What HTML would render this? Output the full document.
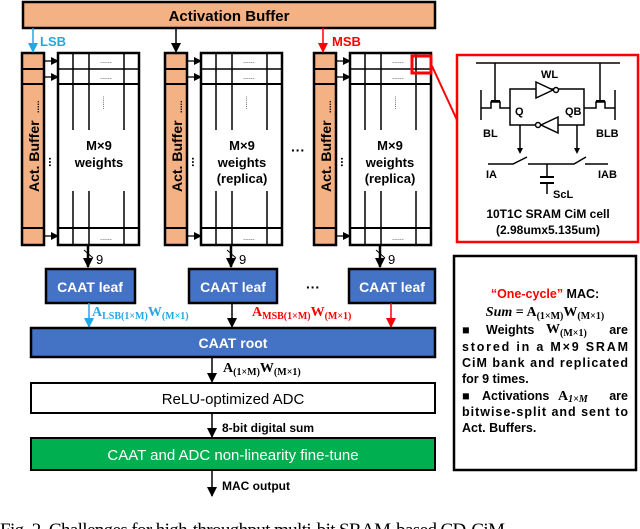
<!DOCTYPE html>
<html><head><meta charset="utf-8"><style>
html,body{margin:0;padding:0;background:#fff;overflow:hidden}
svg{display:block}
text{font-family:"Liberation Sans",Arial,sans-serif}
.b{font-weight:bold}
.s{font-family:"Liberation Serif",serif;font-weight:bold}
</style></head><body>
<svg width="640" height="529" viewBox="0 0 640 529" xmlns="http://www.w3.org/2000/svg">
<defs>
<marker id="ak" markerWidth="8" markerHeight="8" refX="7" refY="4" orient="auto" markerUnits="userSpaceOnUse"><path d="M0,0 L8,4 L0,8 z" fill="#000"/></marker>
<marker id="ab" markerWidth="10" markerHeight="10" refX="9" refY="5" orient="auto" markerUnits="userSpaceOnUse"><path d="M0,0 L10,5 L0,10 z" fill="#1fa9e8"/></marker>
<marker id="ar" markerWidth="10" markerHeight="10" refX="9" refY="5" orient="auto" markerUnits="userSpaceOnUse"><path d="M0,0 L10,5 L0,10 z" fill="#f00"/></marker>
<marker id="ak2" markerWidth="10" markerHeight="10" refX="9" refY="5" orient="auto" markerUnits="userSpaceOnUse"><path d="M0,0 L10,5 L0,10 z" fill="#000"/></marker>
<g id="col">
 <rect x="22" y="53" width="22" height="192" fill="#f4b183" stroke="#000" stroke-width="2.5"/>
 <line x1="22" y1="69" x2="44" y2="69" stroke="#000" stroke-width="2"/>
 <line x1="22" y1="84" x2="44" y2="84" stroke="#000" stroke-width="2"/>
 <line x1="22" y1="228" x2="44" y2="228" stroke="#000" stroke-width="2"/>
 <text class="b" transform="translate(39,192) rotate(-90)" font-size="14">Act. Buffer</text>
 <text class="b" transform="translate(39,113) rotate(-90)" font-size="9">.....</text>
 <text class="b" x="48" y="162" font-size="12" transform="rotate(90 51 160)">...</text>
 <line x1="45" y1="61" x2="58" y2="61" stroke="#000" stroke-width="1.3" marker-end="url(#ak)"/>
 <line x1="45" y1="77" x2="58" y2="77" stroke="#000" stroke-width="1.3" marker-end="url(#ak)"/>
 <line x1="45" y1="236" x2="58" y2="236" stroke="#000" stroke-width="1.3" marker-end="url(#ak)"/>
 <rect x="58" y="53" width="81" height="192" fill="#fff" stroke="#000" stroke-width="2.5"/>
 <line x1="58" y1="69" x2="139" y2="69" stroke="#000" stroke-width="1.5"/>
 <line x1="58" y1="84" x2="139" y2="84" stroke="#000" stroke-width="2"/>
 <line x1="58" y1="228" x2="139" y2="228" stroke="#000" stroke-width="2"/>
 <line x1="73" y1="53" x2="73" y2="130" stroke="#000" stroke-width="1.5"/>
 <line x1="89" y1="53" x2="89" y2="130" stroke="#000" stroke-width="1.5"/>
 <line x1="124" y1="53" x2="124" y2="130" stroke="#000" stroke-width="1.5"/>
 <line x1="73" y1="191" x2="73" y2="245" stroke="#000" stroke-width="1.5"/>
 <line x1="89" y1="191" x2="89" y2="245" stroke="#000" stroke-width="1.5"/>
 <line x1="124" y1="191" x2="124" y2="245" stroke="#000" stroke-width="1.5"/>
 <text x="106" y="63" font-size="7" text-anchor="middle">......</text>
 <text x="106" y="79" font-size="7" text-anchor="middle">......</text>
 <text x="106" y="240" font-size="7" text-anchor="middle">......</text>
 <text transform="translate(103,96) rotate(90)" font-size="7">.......</text>
 <line x1="88" y1="245" x2="88" y2="267" stroke="#000" stroke-width="2.5" marker-end="url(#ak2)"/>
 <line x1="84" y1="250" x2="93" y2="258" stroke="#000" stroke-width="1"/>
 <text x="96" y="264" font-size="13">9</text>
</g>
</defs>
<rect x="23" y="2" width="412" height="26" fill="#f4b183" stroke="#000" stroke-width="2.5"/>
<text class="b" x="229" y="21" font-size="15" text-anchor="middle">Activation Buffer</text>
<use href="#col"/>
<use href="#col" transform="translate(143,0)"/>
<use href="#col" transform="translate(292,0)"/>
<g class="b" font-size="13" text-anchor="middle">
<text x="99" y="150" class="b">M×9</text><text x="99" y="167" class="b">weights</text>
<text x="242" y="150" class="b">M×9</text><text x="242" y="167" class="b">weights</text><text x="242" y="183" class="b">(replica)</text>
<text x="390" y="150" class="b">M×9</text><text x="390" y="167" class="b">weights</text><text x="390" y="183" class="b">(replica)</text>
</g>
<text class="b" x="298" y="155" font-size="14" text-anchor="middle">···</text>
<line x1="33" y1="28" x2="33" y2="52" stroke="#1fa9e8" stroke-width="1.5" marker-end="url(#ab)"/>
<text class="b" x="40" y="46" font-size="13" fill="#1fa9e8">LSB</text>
<line x1="176" y1="28" x2="176" y2="52" stroke="#000" stroke-width="1.5" marker-end="url(#ak2)"/>
<line x1="323" y1="28" x2="323" y2="52" stroke="#f00" stroke-width="1.5" marker-end="url(#ar)"/>
<text class="b" x="332" y="46" font-size="13" fill="#f00">MSB</text>
<rect x="412" y="56" width="19" height="17" fill="none" stroke="#f00" stroke-width="3"/>
<line x1="432" y1="66" x2="457" y2="120" stroke="#f00" stroke-width="2"/>
<g fill="#4472c4" stroke="#000" stroke-width="2.5">
<rect x="46" y="269" width="89" height="34"/><rect x="189" y="269" width="88" height="34"/><rect x="349" y="269" width="86" height="34"/>
</g>
<g class="b" font-size="14" fill="#fff" text-anchor="middle">
<text x="90" y="292">CAAT leaf</text><text x="233" y="292">CAAT leaf</text><text x="392" y="292">CAAT leaf</text>
</g>
<text class="b" x="313" y="292" font-size="14" text-anchor="middle">···</text>
<line x1="89" y1="303" x2="89" y2="327" stroke="#1fa9e8" stroke-width="1.5" marker-end="url(#ab)"/>
<line x1="232" y1="303" x2="232" y2="327" stroke="#000" stroke-width="1.5" marker-end="url(#ak2)"/>
<line x1="391" y1="303" x2="391" y2="327" stroke="#f00" stroke-width="1.5" marker-end="url(#ar)"/>
<text class="s" x="92" y="316" font-size="14" fill="#1fa9e8">A<tspan font-size="10" dy="3">LSB(1×M)</tspan><tspan dy="-3">W</tspan><tspan font-size="10" dy="3">(M×1)</tspan></text>
<text class="s" x="252" y="316" font-size="14" fill="#f00">A<tspan font-size="10" dy="3">MSB(1×M)</tspan><tspan dy="-3">W</tspan><tspan font-size="10" dy="3">(M×1)</tspan></text>
<rect x="31" y="328" width="404" height="29" fill="#4472c4" stroke="#000" stroke-width="2.5"/>
<text class="b" x="233" y="348" font-size="14" fill="#fff" text-anchor="middle">CAAT root</text>
<line x1="212" y1="357" x2="212" y2="382" stroke="#000" stroke-width="1.5" marker-end="url(#ak2)"/>
<text class="s" x="223" y="372" font-size="14">A<tspan font-size="10" dy="3">(1×M)</tspan><tspan dy="-3">W</tspan><tspan font-size="10" dy="3">(M×1)</tspan></text>
<rect x="31" y="383" width="404" height="30" fill="#fff" stroke="#000" stroke-width="2"/>
<text x="233" y="404" font-size="15" text-anchor="middle">ReLU-optimized ADC</text>
<line x1="212" y1="413" x2="212" y2="437" stroke="#000" stroke-width="1.5" marker-end="url(#ak2)"/>
<text class="b" x="222" y="432" font-size="12">8-bit digital sum</text>
<rect x="31" y="438" width="404" height="32" fill="#00b050" stroke="#000" stroke-width="2"/>
<text x="233" y="460" font-size="15" fill="#fff" text-anchor="middle">CAAT and ADC non-linearity fine-tune</text>
<line x1="212" y1="470" x2="212" y2="496" stroke="#000" stroke-width="1.5" marker-end="url(#ak2)"/>
<text class="b" x="222" y="490" font-size="12">MAC output</text>
<text x="0" y="536" font-size="19" textLength="505" style="font-family:'Liberation Serif',serif">Fig. 2. Challenges for high-throughput multi-bit SRAM-based CD-CiM</text>
<rect x="457" y="55" width="181" height="187" fill="#fff" stroke="#f00" stroke-width="2.5"/>
<g stroke="#000" stroke-width="1.5" fill="none">
<line x1="476" y1="63" x2="620" y2="63"/>
<line x1="495" y1="63" x2="495" y2="101"/>
<line x1="600" y1="63" x2="600" y2="101"/>
<line x1="481" y1="90" x2="481" y2="120"/>
<line x1="615" y1="90" x2="615" y2="120"/>
<path d="M481,108 H491 V102 H500 V108 H510"/>
<path d="M615,108 H605 V102 H596 V108 H584"/>
<line x1="491" y1="101" x2="500" y2="101" stroke-width="2"/>
<line x1="596" y1="101" x2="605" y2="101" stroke-width="2"/>
<rect x="510" y="89" width="74" height="36"/>
<path d="M536,82 L553,90 L536,98 Z" fill="#fff"/>
<circle cx="556" cy="90" r="2.5" fill="#fff"/>
<path d="M558,117 L541,125 L558,133 Z" fill="#fff"/>
<circle cx="538" cy="125" r="2.5" fill="#fff"/>
<line x1="520" y1="125" x2="520" y2="150"/>
<line x1="577" y1="125" x2="577" y2="150"/>
<path d="M488,164 H513 L527,157"/>
<path d="M528,164 H574 L586,157"/>
<line x1="585" y1="164" x2="608" y2="164"/>
<line x1="547" y1="164" x2="547" y2="176"/>
<line x1="540" y1="177" x2="554" y2="177" stroke-width="2"/>
<line x1="540" y1="183" x2="554" y2="183" stroke-width="2"/>
<line x1="547" y1="183" x2="547" y2="194"/>
</g>
<path d="M517,148 L520,154 L523,148 Z" fill="#000"/>
<path d="M574,148 L577,154 L580,148 Z" fill="#000"/>
<g class="b" font-size="11">
<text x="541" y="78" class="b">WL</text>
<text x="515" y="115" class="b">Q</text>
<text x="565" y="115" class="b">QB</text>
<text x="483" y="137" class="b">BL</text>
<text x="596" y="137" class="b">BLB</text>
<text x="486" y="178" class="b">IA</text>
<text x="598" y="178" class="b">IAB</text>
<text x="553" y="198" class="b">ScL</text>
</g>
<text class="b" x="548" y="218" font-size="12" text-anchor="middle">10T1C SRAM CiM cell</text>
<text class="b" x="548" y="234" font-size="12" text-anchor="middle">(2.98umx5.135um)</text>
<rect x="454" y="256" width="182" height="214" fill="#fff" stroke="#000" stroke-width="2.5"/>
<g class="b" font-size="12.5">
<text x="545" y="298" text-anchor="middle" class="b"><tspan fill="#f00">“One-cycle”</tspan> MAC:</text>
<text x="545" y="316" text-anchor="middle" class="s" font-size="14"><tspan font-style="italic">Sum</tspan> = A<tspan font-size="10" dy="3">(1×M)</tspan><tspan dy="-3">W</tspan><tspan font-size="10" dy="3">(M×1)</tspan></text>
<text x="462" y="334" class="b">■</text>
<text x="486" y="334" class="b">Weights</text>
<text x="546" y="333" class="s" font-size="14">W<tspan font-size="10" dy="3">(M×1)</tspan></text>
<text x="628" y="334" text-anchor="end" class="b">are</text>
<text x="462" y="351" textLength="166" class="b">stored in a M×9 SRAM</text>
<text x="462" y="367" textLength="166" class="b">CiM bank and replicated</text>
<text x="462" y="383" class="b">for 9 times.</text>
<text x="462" y="400" class="b">■</text>
<text x="482" y="400" class="b">Activations</text>
<text x="558" y="400" class="s" font-size="14">A<tspan font-size="10" dy="2" font-style="italic">1×M</tspan></text>
<text x="628" y="400" text-anchor="end" class="b">are</text>
<text x="462" y="416" textLength="166" class="b">bitwise-split and sent to</text>
<text x="462" y="432" class="b">Act. Buffers.</text>
</g>
</svg>
</body></html>
